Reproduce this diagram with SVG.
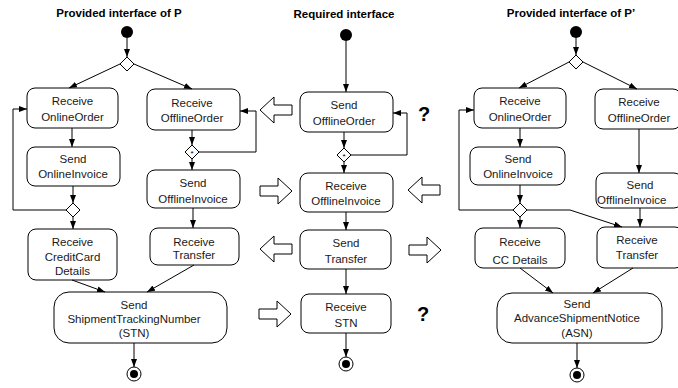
<svg xmlns="http://www.w3.org/2000/svg" width="678" height="388" viewBox="0 0 678 388">
<style>
  .box{fill:#fff;stroke:#000;stroke-width:1}
  .t{font-family:"Liberation Sans",Arial,sans-serif;font-size:11.5px;fill:#1a1a1a;text-anchor:middle}
  .title{font-family:"Liberation Sans",Arial,sans-serif;font-size:11.5px;font-weight:bold;fill:#000;text-anchor:middle}
  .q{font-family:"Liberation Sans",Arial,sans-serif;font-size:20px;font-weight:bold;fill:#000;text-anchor:middle}
  .ln{fill:none;stroke:#000;stroke-width:1}
  .arr{marker-end:url(#ah)}
  .dia{fill:#fff;stroke:#000;stroke-width:1}
  .star{font-family:"Liberation Sans",Arial,sans-serif;font-size:8px;fill:#000;text-anchor:middle}
  .big{fill:#fff;stroke:#000;stroke-width:1}
</style>
<defs>
  <marker id="ah" markerUnits="userSpaceOnUse" markerWidth="9" markerHeight="7" refX="8" refY="3" orient="auto">
    <path d="M0,0 L8,3 L0,6 z" fill="#000"/>
  </marker>
  <path id="bigR" d="M0,-5 L18,-5 L18,-13 L32,0 L18,13 L18,5 L0,5 z"/>
</defs>

<!-- titles -->
<text class="title" x="119" y="17">Provided interface of P</text>
<text class="title" x="344" y="18">Required interface</text>
<text class="title" x="571" y="17">Provided interface of P’</text>

<!-- LEFT COLUMN -->
<g id="p-start"><circle cx="127" cy="32" r="6" fill="#000"/></g>
<g id="p-dec1"><path class="dia" d="M127,57 L134,64 L127,71 L120,64 z"/></g>
<g id="p-recvOnline"><rect class="box" x="27" y="88" width="91" height="40" rx="8"/>
  <text class="t" x="72.5" y="105">Receive</text><text class="t" x="72.5" y="121">OnlineOrder</text></g>
<g id="p-sendOnlineInv"><rect class="box" x="27" y="147" width="93" height="39" rx="8"/>
  <text class="t" x="73" y="163">Send</text><text class="t" x="73" y="178">OnlineInvoice</text></g>
<g id="p-dec2"><path class="dia" d="M73,203 L80,210 L73,217 L66,210 z"/></g>
<g id="p-recvCC"><rect class="box" x="28" y="229" width="89" height="51" rx="8"/>
  <text class="t" x="72.5" y="246">Receive</text><text class="t" x="72.5" y="261">CreditCard</text><text class="t" x="72.5" y="275">Details</text></g>
<g id="p-recvOffline"><rect class="box" x="147" y="89" width="93" height="41" rx="8"/>
  <text class="t" x="192" y="107">Receive</text><text class="t" x="192" y="122">OfflineOrder</text></g>
<g id="p-dec3"><path class="dia" d="M192,145 L199,152 L192,159 L185,152 z"/><text class="star" x="192" y="156">*</text></g>
<g id="p-sendOfflineInv"><rect class="box" x="147" y="170" width="93" height="38" rx="8"/>
  <text class="t" x="193" y="187">Send</text><text class="t" x="193" y="203">OfflineInvoice</text></g>
<g id="p-recvTransfer"><rect class="box" x="150" y="228" width="89" height="37" rx="8"/>
  <text class="t" x="194" y="246">Receive</text><text class="t" x="194" y="259">Transfer</text></g>
<g id="p-sendSTN"><rect class="box" x="54" y="292" width="173" height="51" rx="15"/>
  <text class="t" x="134" y="309">Send</text><text class="t" x="134" y="323">ShipmentTrackingNumber</text><text class="t" x="134" y="337">(STN)</text></g>
<g id="p-end"><circle cx="134" cy="374" r="7" fill="#fff" stroke="#000"/><circle cx="134" cy="374" r="4" fill="#000"/></g>

<!-- MIDDLE COLUMN -->
<g id="r-start"><circle cx="346" cy="35" r="6" fill="#000"/></g>
<g id="r-sendOffline"><rect class="box" x="300" y="92" width="93" height="40" rx="8"/>
  <text class="t" x="344" y="109">Send</text><text class="t" x="344" y="125">OfflineOrder</text></g>
<g id="r-dec"><path class="dia" d="M344,148 L351,155 L344,162 L337,155 z"/><text class="star" x="344" y="159">*</text></g>
<g id="r-recvOfflineInv"><rect class="box" x="300" y="173" width="93" height="39" rx="8"/>
  <text class="t" x="346" y="190">Receive</text><text class="t" x="346" y="205">OfflineInvoice</text></g>
<g id="r-sendTransfer"><rect class="box" x="300" y="230" width="91" height="39" rx="8"/>
  <text class="t" x="346" y="247">Send</text><text class="t" x="346" y="263">Transfer</text></g>
<g id="r-recvSTN"><rect class="box" x="301" y="294" width="90" height="39" rx="8"/>
  <text class="t" x="346" y="311">Receive</text><text class="t" x="346" y="327">STN</text></g>
<g id="r-end"><circle cx="346" cy="364" r="7" fill="#fff" stroke="#000"/><circle cx="346" cy="364" r="4" fill="#000"/></g>
<g id="q1"><text class="q" x="424" y="121">?</text></g>
<g id="q2"><text class="q" x="423" y="321">?</text></g>

<!-- RIGHT COLUMN -->
<g id="pp-start"><circle cx="576" cy="32" r="6" fill="#000"/></g>
<g id="pp-dec1"><path class="dia" d="M576,55 L583,62 L576,69 L569,62 z"/></g>
<g id="pp-recvOnline"><rect class="box" x="474" y="88" width="92" height="40" rx="8"/>
  <text class="t" x="520" y="105">Receive</text><text class="t" x="520" y="121">OnlineOrder</text></g>
<g id="pp-sendOnlineInv"><rect class="box" x="470" y="147" width="95" height="38" rx="8"/>
  <text class="t" x="518" y="163">Send</text><text class="t" x="518" y="178">OnlineInvoice</text></g>
<g id="pp-dec2"><path class="dia" d="M520,203 L527,210 L520,217 L513,210 z"/></g>
<g id="pp-recvCC"><rect class="box" x="475" y="228" width="90" height="40" rx="8"/>
  <text class="t" x="520" y="246">Receive</text><text class="t" x="520" y="264">CC Details</text></g>
<g id="pp-recvOffline"><rect class="box" x="595" y="89" width="86" height="40" rx="8"/>
  <text class="t" x="639" y="106">Receive</text><text class="t" x="639" y="122">OfflineOrder</text></g>
<g id="pp-sendOfflineInv"><rect class="box" x="596" y="173" width="86" height="35" rx="8"/>
  <text class="t" x="640" y="189">Send</text><text class="t" x="597" y="204" style="text-anchor:start">OfflineInvoice</text></g>
<g id="pp-recvTransfer"><rect class="box" x="597" y="227" width="86" height="41" rx="8"/>
  <text class="t" x="637" y="244">Receive</text><text class="t" x="637" y="259">Transfer</text></g>
<g id="pp-sendASN"><rect class="box" x="497" y="293" width="165" height="50" rx="15"/>
  <text class="t" x="577" y="308">Send</text><text class="t" x="577" y="322">AdvanceShipmentNotice</text><text class="t" x="577" y="337">(ASN)</text></g>
<g id="pp-end"><circle cx="577" cy="375" r="7" fill="#fff" stroke="#000"/><circle cx="577" cy="375" r="4" fill="#000"/></g>

<!-- block arrows -->
<g id="bigArrows" class="big">
  <use href="#bigR" transform="translate(292,110) scale(-1,1)"/>
  <use href="#bigR" transform="translate(260,191)"/>
  <use href="#bigR" transform="translate(292,249) scale(-1,1)"/>
  <use href="#bigR" transform="translate(259,314)"/>
  <use href="#bigR" transform="translate(440,190) scale(-1,1)"/>
  <use href="#bigR" transform="translate(409,250)"/>
</g>

<!-- connectors -->
<g id="connectors">
  <line class="ln arr" x1="127" y1="38" x2="127" y2="57"/>
  <line class="ln arr" x1="120" y1="64" x2="69" y2="88"/>
  <line class="ln arr" x1="134" y1="64" x2="192" y2="89"/>
  <line class="ln arr" x1="72" y1="128" x2="72" y2="147"/>
  <line class="ln arr" x1="73" y1="186" x2="73" y2="203"/>
  <polyline class="ln arr" points="66,210 13,210 13,109 27,109"/>
  <line class="ln arr" x1="73" y1="217" x2="73" y2="229"/>
  <line class="ln arr" x1="192" y1="130" x2="192" y2="145"/>
  <polyline class="ln arr" points="199,152 256,152 256,111 240,111"/>
  <line class="ln arr" x1="192" y1="159" x2="192" y2="170"/>
  <line class="ln arr" x1="193" y1="208" x2="193" y2="228"/>
  <line class="ln arr" x1="72" y1="280" x2="105" y2="292"/>
  <line class="ln arr" x1="194" y1="265" x2="147" y2="292"/>
  <line class="ln arr" x1="134" y1="343" x2="134" y2="367"/>

  <line class="ln arr" x1="346" y1="41" x2="346" y2="92"/>
  <line class="ln arr" x1="344" y1="132" x2="344" y2="148"/>
  <polyline class="ln arr" points="351,155 407,155 407,113 393,113"/>
  <line class="ln arr" x1="344" y1="162" x2="344" y2="173"/>
  <line class="ln arr" x1="346" y1="212" x2="346" y2="230"/>
  <line class="ln arr" x1="346" y1="269" x2="346" y2="294"/>
  <line class="ln arr" x1="346" y1="333" x2="346" y2="357"/>

  <line class="ln arr" x1="576" y1="38" x2="576" y2="55"/>
  <line class="ln arr" x1="569" y1="62" x2="519" y2="88"/>
  <line class="ln arr" x1="583" y1="62" x2="637" y2="89"/>
  <line class="ln arr" x1="520" y1="128" x2="520" y2="147"/>
  <line class="ln arr" x1="520" y1="185" x2="520" y2="203"/>
  <polyline class="ln arr" points="513,210 459,210 459,110 474,110"/>
  <polyline class="ln arr" points="527,210 570,210 622,227"/>
  <line class="ln arr" x1="520" y1="217" x2="520" y2="228"/>
  <line class="ln arr" x1="639" y1="129" x2="639" y2="173"/>
  <line class="ln arr" x1="640" y1="208" x2="640" y2="227"/>
  <line class="ln arr" x1="520" y1="268" x2="553" y2="293"/>
  <line class="ln arr" x1="633" y1="268" x2="593" y2="293"/>
  <line class="ln arr" x1="577" y1="343" x2="577" y2="368"/>
</g>
</svg>
